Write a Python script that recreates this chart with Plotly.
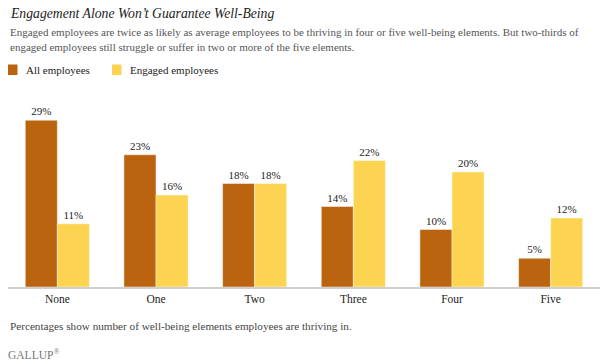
import plotly.graph_objects as go

categories = ["None", "One", "Two", "Three", "Four", "Five"]
all_employees = [29, 23, 18, 14, 10, 5]
engaged_employees = [11, 16, 18, 22, 20, 12]
series_names = ["All employees", "Engaged employees"]

ORANGE = "#BA640F"
YELLOW = "#FDD352"
FONT = "Liberation Serif, DejaVu Serif, serif"

fig = go.Figure()
for name, vals, col in [(series_names[0], all_employees, ORANGE),
                        (series_names[1], engaged_employees, YELLOW)]:
    fig.add_trace(go.Bar(
        x=categories, y=vals, name=name,
        marker=dict(color=col, line=dict(color="rgba(255,255,255,0.45)", width=1)),
        text=[f"{v}%" for v in vals], textposition="outside",
        textfont=dict(family=FONT, size=11, color="#222"),
        cliponaxis=False, showlegend=False,
    ))

fig.update_layout(
    width=606, height=364,
    margin=dict(l=8, r=6, t=103, b=77),
    paper_bgcolor="white", plot_bgcolor="white",
    barmode="group", bargap=0.35, bargroupgap=0,
    font=dict(family=FONT, color="#333"),
    xaxis=dict(showgrid=False, showline=True, linecolor="#cfcfcb", linewidth=2,
               ticks="", tickfont=dict(family=FONT, size=11.5, color="#222"),
               range=[-0.5, 5.5], fixedrange=True),
    yaxis=dict(visible=False, range=[0, 32], fixedrange=True),
)

ann = [
    dict(text="<i>Engagement Alone Won\u2019t Guarantee Well-Being</i>", x=8, y=13,
         font=dict(size=13.7, color="#222")),
    dict(text="Engaged employees are twice as likely as average employees to be thriving in four or five well-being elements. But two-thirds of",
         x=8, y=32, font=dict(size=11, color="#555")),
    dict(text="engaged employees still struggle or suffer in two or more of the five elements.",
         x=8, y=47, font=dict(size=11, color="#555")),
    dict(text=series_names[0], x=24, y=70, font=dict(size=11, color="#222")),
    dict(text=series_names[1], x=128, y=70, font=dict(size=11, color="#222")),
    dict(text="Percentages show number of well-being elements employees are thriving in.",
         x=8, y=326, font=dict(size=11.2, color="#444")),
    dict(text="GALLUP<sup>\u00ae</sup>", x=6, y=354, font=dict(size=11.5, color="#777")),
]
for a in ann:
    fig.add_annotation(
        text=a["text"], xref="paper", yref="paper",
        x=(a["x"] - 8) / (606 - 14), y=1 - (a["y"] - 103) / (364 - 180),
        xanchor="left", yanchor="middle", showarrow=False,
        font=dict(family=FONT, **a["font"]),
    )

for x0, col in [(8, ORANGE), (112, YELLOW)]:
    fig.add_shape(type="rect", xref="paper", yref="paper",
                  x0=(x0 - 8) / 592, x1=(x0 + 9.5 - 8) / 592,
                  y0=1 - (75 - 103) / 184, y1=1 - (64.5 - 103) / 184,
                  fillcolor=col, line=dict(width=0))

fig.write_html("out.html", config={"displayModeBar": False},
               post_script="document.body.style.margin='0';document.body.style.padding='0';")
